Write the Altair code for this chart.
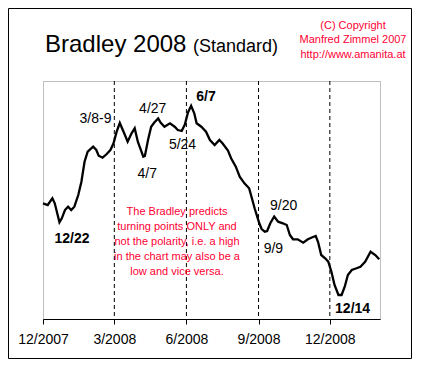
import altair as alt
import pandas as pd

# Bradley siderograph line, value = arbitrary index
dates = [
    "2007-12-01", "2007-12-07", "2007-12-13", "2007-12-16", "2007-12-22", "2007-12-25",
    "2007-12-29", "2008-01-02", "2008-01-06", "2008-01-10", "2008-01-15", "2008-01-19",
    "2008-01-23", "2008-01-27", "2008-02-03", "2008-02-07", "2008-02-10", "2008-02-15",
    "2008-02-20", "2008-02-25", "2008-02-29", "2008-03-04", "2008-03-08", "2008-03-14",
    "2008-03-18", "2008-03-23", "2008-03-27", "2008-03-31", "2008-04-07", "2008-04-09",
    "2008-04-13", "2008-04-17", "2008-04-21", "2008-04-26", "2008-04-29", "2008-05-04",
    "2008-05-11", "2008-05-17", "2008-05-21", "2008-05-26", "2008-05-30", "2008-06-03",
    "2008-06-07", "2008-06-11", "2008-06-14", "2008-06-20", "2008-06-26", "2008-07-01",
    "2008-07-07", "2008-07-13", "2008-07-17", "2008-07-24", "2008-07-28", "2008-08-03",
    "2008-08-08", "2008-08-14", "2008-08-20", "2008-08-23", "2008-08-27", "2008-09-02",
    "2008-09-05", "2008-09-09", "2008-09-12", "2008-09-16", "2008-09-21", "2008-09-26",
    "2008-10-02", "2008-10-07", "2008-10-11", "2008-10-15", "2008-10-21", "2008-10-28",
    "2008-11-03", "2008-11-08", "2008-11-13", "2008-11-16", "2008-11-20", "2008-11-25",
    "2008-11-29", "2008-12-03", "2008-12-07", "2008-12-12", "2008-12-16", "2008-12-20",
    "2008-12-24", "2008-12-29", "2009-01-04", "2009-01-09", "2009-01-15", "2009-01-22",
    "2009-01-28", "2009-02-02",
]
values = [
    115.7, 114, 120.7, 115.7, 96.7, 100.7,
    109, 112.3, 109, 112.3, 124, 137.3,
    157.3, 167.3, 172.3, 169, 163.3, 161.3,
    164.7, 169, 175.7, 187.3, 196, 185,
    177.3, 185.7, 190.7, 177.3, 162.3, 163,
    179, 192.3, 196.5, 200.5, 196.5, 192.3,
    195.7, 192.3, 189, 188, 194.5, 206.5,
    213.2, 205.7, 195.7, 192.3, 187.3, 179,
    174, 179, 175.7, 168.5, 160.7, 152.3,
    142.3, 135.7, 130.7, 122.3, 110.7, 95.7,
    90, 87.3, 88, 95.7, 102.5, 97.3,
    95.7, 94, 84, 79.7, 79.7, 76.3,
    79.7, 81.5, 83, 77, 64, 60.7,
    57.3, 47.3, 34, 24, 24, 32.3,
    44, 49, 50.7, 52.3, 57.3, 67.3,
    64, 59.7,
]

# vertical dashed markers and axis ticks
marker_dates = ["2008-03-01", "2008-06-01", "2008-09-01", "2008-12-01"]
tick_dates = ["2007-12-01", "2008-03-01", "2008-06-01", "2008-09-01", "2008-12-01"]

# turning point annotations
ann_text = ["3/8-9", "4/27", "6/7", "5/24", "4/7", "12/22", "9/20", "9/9", "12/14"]
ann_dates = ["2008-02-06", "2008-04-19", "2008-06-26", "2008-05-27", "2008-04-12",
             "2008-01-07", "2008-10-03", "2008-09-20", "2008-12-30"]
ann_values = [200, 210, 222, 174, 145, 80, 113, 70, 10]
ann_bold = [False, False, True, False, False, True, False, False, True]

title_main = "Bradley 2008"
title_sub = "(Standard)"
copyright_lines = ["(C) Copyright", "Manfred Zimmel 2007", "http://www.amanita.at"]
note_lines = [
    "The Bradley predicts",
    "turning points ONLY and",
    "not the polarity, i.e. a high",
    "in the chart may also be a",
    "low and vice versa.",
]

FONT = "Liberation Sans"
RED = "#ff0033"
W, H = 337, 238
PL, PT, PR, PB = 35, 73, 32, 40

line_df = pd.DataFrame({"date": pd.to_datetime(dates), "value": values})
mark_df = pd.DataFrame({"date": pd.to_datetime(marker_dates)})
ann_df = pd.DataFrame({"date": pd.to_datetime(ann_dates), "value": ann_values,
                       "label": ann_text, "bold": ann_bold})

xscale = alt.Scale(domain=[alt.DateTime(year=2007, month=12, date=1),
                           alt.DateTime(year=2009, month=2, date=3)], nice=False)
yscale = alt.Scale(domain=[0, 238], nice=False, zero=False)

xaxis = alt.Axis(
    values=[alt.DateTime(year=int(d[:4]), month=int(d[5:7]), date=int(d[8:])) for d in tick_dates],
    format="%-m/%Y", title=None, grid=False, labelFont=FONT, labelFontSize=14,
    labelColor="black", tickColor="black", domainColor="black", tickSize=5,
    labelPadding=8, labelFlush=False, labelOverlap=False,
)

line = alt.Chart(line_df).mark_line(color="black", strokeWidth=2.3).encode(
    x=alt.X("date:T", scale=xscale, axis=xaxis),
    y=alt.Y("value:Q", scale=yscale, axis=None),
)

rules = alt.Chart(mark_df).mark_rule(color="black", strokeDash=[4, 3], strokeWidth=1).encode(
    x=alt.X("date:T", scale=xscale),
)

ann_normal = alt.Chart(ann_df).transform_filter("!datum.bold").mark_text(
    font=FONT, fontSize=14, color="black", baseline="middle"
).encode(x=alt.X("date:T", scale=xscale), y=alt.Y("value:Q", scale=yscale), text="label:N")

ann_bold_l = alt.Chart(ann_df).transform_filter("datum.bold").mark_text(
    font=FONT, fontSize=14, color="black", fontWeight="bold", baseline="middle"
).encode(x=alt.X("date:T", scale=xscale), y=alt.Y("value:Q", scale=yscale), text="label:N")

one = pd.DataFrame({"k": [0]})

t_main = alt.Chart(one).mark_text(
    text=title_main, font=FONT, fontSize=24, color="black", align="left", baseline="alphabetic"
).encode(x=alt.value(2), y=alt.value(-29))

t_sub = alt.Chart(one).mark_text(
    text=title_sub, font=FONT, fontSize=18, color="black", align="left", baseline="alphabetic"
).encode(x=alt.value(150), y=alt.value(-29))

t_copy = alt.Chart(one).mark_text(
    text=copyright_lines, font=FONT, fontSize=11, color=RED, align="center",
    baseline="middle", lineHeight=14.5
).encode(x=alt.value(310), y=alt.value(-55.5))

t_note = alt.Chart(one).mark_text(
    text=note_lines, font=FONT, fontSize=11, color=RED, align="center",
    baseline="middle", lineHeight=15
).encode(x=alt.value(134), y=alt.value(131))

frame = alt.Chart(one).mark_rect(fill=None, stroke="black", strokeWidth=1).encode(
    x=alt.value(-PL + 0.5), x2=alt.value(W + PR - 0.5),
    y=alt.value(-PT + 0.5), y2=alt.value(H + PB - 0.5),
)

chart = alt.layer(
    rules, t_note, line, ann_normal, ann_bold_l, t_main, t_sub, t_copy, frame
).properties(
    width=W, height=H, autosize=alt.AutoSizeParams(type="none"),
    padding={"left": PL, "top": PT, "right": PR, "bottom": PB},
    background="white",
).configure_view(stroke="#808080", strokeDash=[1, 1])

chart.save("out.html", embed_options={"renderer": "svg", "actions": False})
